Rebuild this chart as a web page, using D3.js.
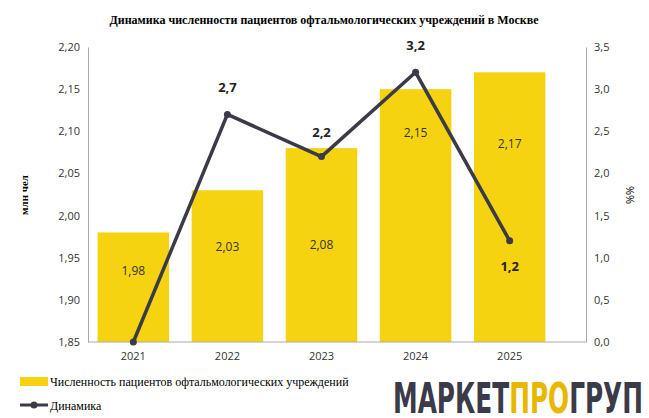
<!DOCTYPE html><html><head><meta charset="utf-8">
<script src="https://cdn.jsdelivr.net/npm/d3@7"></script>
<style>body{margin:0;background:#fff}text{font-family:"Open Sans",sans-serif}</style></head><body>
<svg id="c" width="649" height="418"></svg>
<script>
const years=["2021","2022","2023","2024","2025"];
const patients=[1.98,2.03,2.08,2.15,2.17];
const patientLabels=["1,98","2,03","2,08","2,15","2,17"];
const growth=[0,2.7,2.2,3.2,1.2];
const growthLabels=["","2,7","2,2","3,2","1,2"];
const leftTicks=[1.85,1.90,1.95,2.00,2.05,2.10,2.15,2.20];
const rightTicks=[0,0.5,1,1.5,2,2.5,3,3.5];
const svg=d3.select("#c");
const x=d3.scaleBand().domain(years).range([75,568]).padding(0.24);
const yL=d3.scaleLinear().domain([1.85,2.20]).range([342,47]);
const yR=d3.scaleLinear().domain([0,3.5]).range([342,47]);
const fmt=d=>d.toFixed(2).replace(".",",");
const fmtR=d=>d.toFixed(1).replace(".",",");
svg.append("text").attr("x",324).attr("y",24).attr("text-anchor","middle").style("font-family","Liberation Serif").style("font-weight","bold").style("font-size","12px").text("Динамика численности пациентов офтальмологических учреждений в Москве");
svg.selectAll(".bar").data(patients).enter().append("rect").attr("x",(d,i)=>x(years[i])).attr("width",x.bandwidth()).attr("y",d=>yL(d)).attr("height",d=>342-yL(d)).attr("fill","#f5d311");
const lblOff=[43,61,101,48,76];
svg.selectAll(".bl").data(patients).enter().append("text").attr("x",(d,i)=>x(years[i])+x.bandwidth()/2).attr("y",(d,i)=>yL(d)+lblOff[i]).attr("text-anchor","middle").style("font-size","12px").attr("fill","#333").text((d,i)=>patientLabels[i]);
const gl=svg.append("g").attr("transform","translate(88,0)").call(d3.axisLeft(yL).tickValues(leftTicks).tickFormat(fmt).tickSize(0).tickPadding(8));
const gr=svg.append("g").attr("transform","translate(586,0)").call(d3.axisRight(yR).tickValues(rightTicks).tickFormat(fmtR).tickSize(0).tickPadding(8));
const gb=svg.append("g").attr("transform","translate(0,342)").call(d3.axisBottom(x).tickSize(0).tickPadding(10));
gb.select(".domain").attr("d","M88,0H586");
[gl,gr,gb].forEach(g=>{g.selectAll("text").style("font-size","11px").attr("fill","#333");g.select(".domain").attr("stroke","#aaa");});
svg.append("text").attr("transform","translate(28,195) rotate(-90)").attr("text-anchor","middle").style("font-family","Liberation Serif").style("font-weight","bold").style("font-size","11px").text("млн чел");
svg.append("text").attr("transform","translate(626,195) rotate(90)").attr("text-anchor","middle").style("font-size","11px").text("%%");
const cx=(d,i)=>x(years[i])+x.bandwidth()/2;
svg.append("path").datum(growth).attr("d",d3.line().x(cx).y(d=>yR(d))).attr("fill","none").attr("stroke","#3a3a48").attr("stroke-width",3.5);
svg.selectAll(".pt").data(growth).enter().append("circle").attr("cx",cx).attr("cy",d=>yR(d)).attr("r",3.5).attr("fill","#3a3a48");
const off=[0,-22,-20,-22,30];
svg.selectAll(".gl").data(growth).enter().append("text").attr("x",cx).attr("y",(d,i)=>yR(d)+off[i]).attr("text-anchor","middle").style("font-weight","bold").style("font-size","13px").attr("fill","#222").text((d,i)=>growthLabels[i]);
svg.append("rect").attr("x",20).attr("y",377).attr("width",28).attr("height",9).attr("fill","#f5d311");
svg.append("text").attr("x",50).attr("y",386).style("font-family","Liberation Serif").style("font-size","12px").text("Численность пациентов офтальмологических учреждений");
svg.append("line").attr("x1",20).attr("x2",48).attr("y1",405).attr("y2",405).attr("stroke","#3a3a48").attr("stroke-width",3);
svg.append("circle").attr("cx",34).attr("cy",405).attr("r",3.5).attr("fill","#3a3a48");
svg.append("text").attr("x",50).attr("y",410).style("font-family","Liberation Serif").style("font-size","12px").text("Динамика");
const logo=svg.append("text").attr("x",393).attr("y",413).attr("textLength",250).attr("lengthAdjust","spacingAndGlyphs").style("font-family","DejaVu Sans Condensed").style("font-weight","bold").style("font-size","42px").attr("fill","#3a3a48");
logo.append("tspan").text("МАРКЕТ");logo.append("tspan").attr("fill","#e8b800").text("ПРО");logo.append("tspan").text("ГРУП");
</script></body></html>
